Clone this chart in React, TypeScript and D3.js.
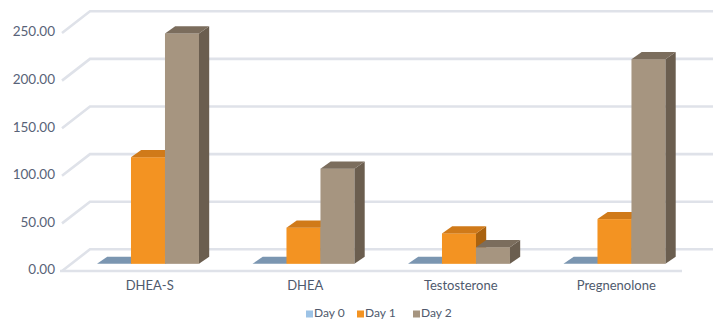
import * as d3 from "d3";

const categories = ["DHEA-S", "DHEA", "Testosterone", "Pregnenolone"];
const series = ["Day 0", "Day 1", "Day 2"];
const day0 = [0, 0, 0, 0];
const day1 = [112, 38, 32, 47];
const day2 = [242, 100, 17.5, 215];
const yTicks = [0, 50, 100, 150, 200, 250];

const values = [day0, day1, day2];

// face colours per series: front, top, side, legend swatch
const palette = [
  { front: "#9dc3e6", top: "#7b96b1", side: "#5f7891", swatch: "#9dc3e6" },
  { front: "#f39322", top: "#d07a19", side: "#a9620f", swatch: "#f39322" },
  { front: "#a69580", top: "#7b6d5d", side: "#6b5e4f", swatch: "#a69580" },
];

const W = 719, H = 322;
const frontLeft = 60, frontRight = 682;
const floorY = 271;
const depthX = 31, depthY = -21.7;
const barF1 = 0.33, barF2 = 0.66;
const font = "Lato, 'Open Sans', sans-serif";

export default function App() {
  const x = d3.scaleBand<string>().domain(categories).range([frontLeft, frontRight]).paddingInner(0);
  const inner = d3.scaleBand<string>().domain(series).range([0, x.bandwidth()]).paddingInner(0).paddingOuter(0.787);
  const y = d3.scaleLinear().domain([0, 250]).range([floorY, floorY - 238]);

  const bdx = (barF2 - barF1) * depthX;
  const bdy = (barF2 - barF1) * depthY;
  const offX = barF1 * depthX;
  const offY = barF1 * depthY;

  const bars: JSX.Element[] = [];
  categories.forEach((c, ci) => {
    series.forEach((s, si) => {
      const v = values[si][ci];
      const col = palette[si];
      const x0 = (x(c) ?? 0) + (inner(s) ?? 0) + offX;
      const w = inner.bandwidth();
      const yb = y(0) + offY;
      const yt = y(v) + offY;
      const pts = (p: number[][]) => p.map((q) => q.join(",")).join(" ");
      bars.push(
        <g key={c + s}>
          {v > 0 && <rect x={x0} y={yt} width={w} height={yb - yt} fill={col.front} />}
          {v > 0 && (
            <polygon
              points={pts([[x0 + w, yt], [x0 + w + bdx, yt + bdy], [x0 + w + bdx, yb + bdy], [x0 + w, yb]])}
              fill={col.side}
            />
          )}
          <polygon
            points={pts([[x0, yt], [x0 + w, yt], [x0 + w + bdx, yt + bdy], [x0 + bdx, yt + bdy]])}
            fill={col.top}
          />
        </g>
      );
    });
  });

  const legendX = [306, 357, 413];

  return (
    <svg width={W} height={H} style={{ position: "absolute", left: 0, top: 0, background: "#fff" }}>
      {/* gridlines: side wall diagonal + back wall */}
      {yTicks.map((t) => (
        <polyline
          key={t}
          points={`${frontLeft + 2},${y(t)} ${frontLeft + depthX - 1},${y(t) + depthY} ${frontRight + depthX},${y(t) + depthY}`}
          fill="none"
          stroke="#dfe2e9"
          strokeWidth={2.6}
        />
      ))}
      <line x1={frontLeft} x2={frontRight} y1={floorY} y2={floorY} stroke="#dfe2e9" strokeWidth={2.6} />
      {yTicks.map((t) => (
        <text
          key={"l" + t}
          x={55}
          y={y(t)}
          textAnchor="end"
          dominantBaseline="middle"
          fontFamily={font}
          fontSize={13.5}
          fill="#586378"
        >
          {t.toFixed(2)}
        </text>
      ))}
      {bars}
      {categories.map((c) => (
        <text
          key={"c" + c}
          x={(x(c) ?? 0) + x.bandwidth() / 2 + 12}
          y={286.5}
          textAnchor="middle"
          dominantBaseline="middle"
          fontFamily={font}
          fontSize={13}
          fill="#4f5a6d"
        >
          {c}
        </text>
      ))}
      {series.map((s, i) => (
        <g key={"lg" + s}>
          <rect x={legendX[i]} y={310.5} width={7} height={7} fill={palette[i].swatch} />
          <text x={legendX[i] + 8} y={314} dominantBaseline="middle" fontFamily={font} fontSize={12} fill="#4f5a6d">
            {s}
          </text>
        </g>
      ))}
    </svg>
  );
}
